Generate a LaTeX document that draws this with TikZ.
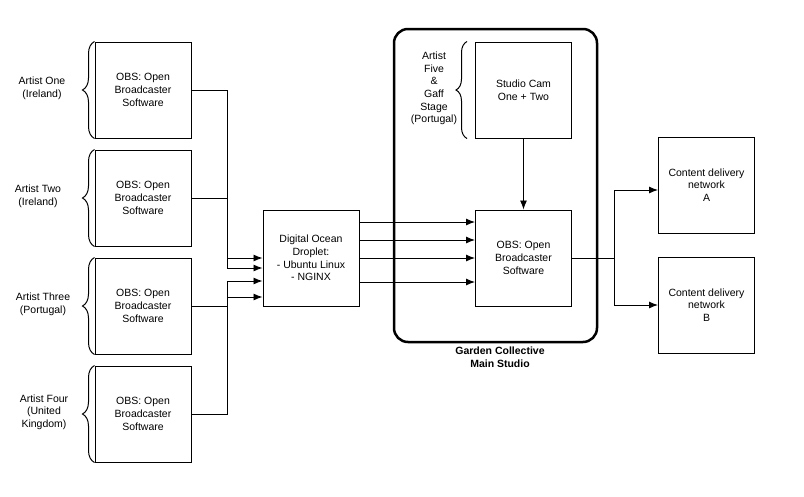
\documentclass[tikz,border=0pt]{standalone}
\usepackage{fontspec}
\setmainfont{Liberation Sans}
\usetikzlibrary{arrows.meta, decorations.pathreplacing}

\begin{document}
\begin{tikzpicture}[x=1pt, y=-1pt,
    box/.style={draw, line width=1pt, minimum width=96pt, minimum height=96pt, inner sep=2pt, align=center, font=\fontsize{10.5}{12.7}\selectfont},
    lbl/.style={align=center, inner sep=0pt, font=\fontsize{10.5}{12.7}\selectfont},
    wire/.style={line width=0.9pt},
    link/.style={line width=0.9pt, -{Latex[length=9pt, width=7pt]}},
    curly/.style={decorate, decoration={brace, amplitude=12pt}, line width=1pt}]
  \useasboundingbox (0,0) rectangle (804,496);

  % remote artists
  \node[box] (obs1) at (143, 90) {OBS: Open\\Broadcaster\\Software};
  \node[box] (obs2) at (143, 198) {OBS: Open\\Broadcaster\\Software};
  \node[box] (obs3) at (143, 306) {OBS: Open\\Broadcaster\\Software};
  \node[box] (obs4) at (143, 414) {OBS: Open\\Broadcaster\\Software};
  \draw[curly] (obs1.south west) -- (obs1.north west);
  \draw[curly] (obs2.south west) -- (obs2.north west);
  \draw[curly] (obs3.south west) -- (obs3.north west);
  \draw[curly] (obs4.south west) -- (obs4.north west);
  \node[lbl] (artist1) at (42, 88) {Artist One\\(Ireland)};
  \node[lbl] (artist2) at (38, 196) {Artist Two\\(Ireland)};
  \node[lbl] (artist3) at (43, 304) {Artist Three\\(Portugal)};
  \node[lbl] (artist4) at (44, 412) {Artist Four\\(United\\Kingdom)};

  % relay
  \node[box] (droplet) at (311, 258) {Digital Ocean\\Droplet:\\- Ubuntu Linux\\- NGINX};
  \draw[link] (obs1.east) -- ++(36,0) |- (droplet.west);
  \draw[link] (obs2.east) -- ++(36,0) |- ([yshift=-10pt]droplet.west);
  \draw[link] (obs3.east) -- ++(36,0) |- ([yshift=-23pt]droplet.west);
  \draw[link] (obs4.east) -- ++(36,0) |- ([yshift=-39pt]droplet.west);

  % studio
  \node[draw, line width=2.5pt, rounded corners=14pt, minimum width=203pt, minimum height=313pt] (studio) at (495.5, 185.5) {};
  \node[lbl, font=\fontsize{10.5}{12.7}\selectfont\bfseries] (studiolbl) at (500, 357.5) {Garden Collective\\Main Studio};
  \node[box] (cam) at (523.5, 90) {Studio Cam\\One + Two};
  \node[box] (mixer) at (523.5, 258) {OBS: Open\\Broadcaster\\Software};
  \draw[curly, decoration={amplitude=11pt}] ([xshift=-8pt]cam.south west) -- ([xshift=-8pt]cam.north west);
  \node[lbl] (artist5) at (434, 88.5) {Artist\\Five\\\&\\Gaff\\Stage\\(Portugal)};
  \draw[link] (cam) -- (mixer);
  \draw[link] ([yshift=36pt]droplet.east) -- ([yshift=36pt]mixer.west);
  \draw[link] ([yshift=18pt]droplet.east) -- ([yshift=18pt]mixer.west);
  \draw[link] (droplet.east) -- (mixer.west);
  \draw[link] ([yshift=-24pt]droplet.east) -- ([yshift=-24pt]mixer.west);

  % delivery
  \node[box] (cdnA) at (706.5, 185) {Content delivery\\network\\A};
  \node[box] (cdnB) at (706.5, 305) {Content delivery\\network\\B};
  \draw[link] (mixer.east) -- ++(42,0) |- ([yshift=-5pt]cdnA.west);
  \draw[link] (mixer.east) -- ++(42,0) |- (cdnB.west);
\end{tikzpicture}
\end{document}
